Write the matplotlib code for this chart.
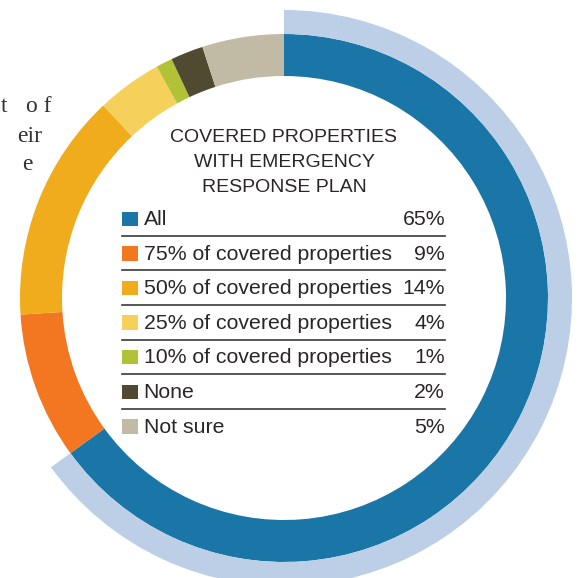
import matplotlib.pyplot as plt
from matplotlib.patches import Rectangle

# Data
labels = ['All', '75% of covered properties', '50% of covered properties',
          '25% of covered properties', '10% of covered properties', 'None', 'Not sure']
shares = [65, 9, 14, 4, 1, 2, 5]
colors = ['#1b76a8', '#f37721', '#f0ac1c', '#f5d05a', '#b2c237', '#504a30', '#c1bba5']
title_lines = ['COVERED PROPERTIES', 'WITH EMERGENCY', 'RESPONSE PLAN']

W, H = 583, 578
fig = plt.figure(figsize=(W / 100, H / 100), dpi=100)
ax = fig.add_axes([0, 0, 1, 1])
ax.axis('off')

cx, cy = 284, H - 298
text_col = '#2a2627'

# Donut
ax.pie(shares, colors=colors, startangle=90, counterclock=False,
       center=(cx, cy), radius=264, wedgeprops=dict(width=42, linewidth=0))

# Outer highlight ring for "All"
ax.pie([shares[0], sum(shares) - shares[0]], colors=['#bccfe6', 'none'],
       startangle=90, counterclock=False, center=(cx, cy), radius=288,
       wedgeprops=dict(width=24, linewidth=0))

ax.set_xlim(0, W)
ax.set_ylim(0, H)
ax.set_aspect('auto')

# Title
for i, line in enumerate(title_lines):
    ax.text(284, H - (142 + 25 * i), line, ha='center', va='baseline',
            fontsize=14, family='Liberation Sans', color=text_col)

# Legend rows
x0, x1 = 122, 445
base0, step = 225, 34.6
for i, (lab, val, col) in enumerate(zip(labels, shares, colors)):
    b = base0 + step * i
    ax.add_patch(Rectangle((x0, H - b - 1), 15.5, 14.5, color=col, lw=0))
    ax.text(143.5, H - b, lab, ha='left', va='baseline', fontsize=15.3,
            family='Liberation Sans', color=text_col)
    ax.text(x1, H - b, f'{val}%', ha='right', va='baseline', fontsize=15.3,
            family='Liberation Sans', color=text_col)
    if i < len(labels) - 1:
        ax.plot([x0, x1], [H - b - 10.7] * 2, color='#3a3a3a', lw=1.2)

# Cut-off body text at left edge
serif = dict(family='Liberation Serif', fontsize=17, color='#333333', va='baseline')
ax.text(1, H - 112, 't', ha='left', **serif)
ax.text(51, H - 112, 'o f', ha='right', **serif)
ax.text(42, H - 142, 'eir', ha='right', **serif)
ax.text(33, H - 170, 'e', ha='right', **serif)

fig.savefig('out.png', dpi=100)
